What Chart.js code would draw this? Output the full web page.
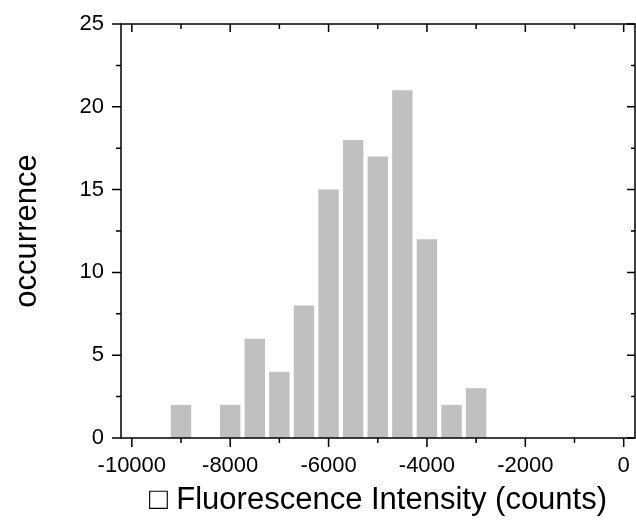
<!DOCTYPE html>
<html>
<head>
<meta charset="utf-8">
<script src="https://cdn.jsdelivr.net/npm/chart.js@4/dist/chart.umd.min.js"></script>
<style>
  html, body { margin: 0; padding: 0; background: #fff; }
  #wrap { width: 636px; height: 525px; }
</style>
</head>
<body>
<div id="wrap"><canvas id="histChart"></canvas></div>
<script>
// histogram bins (centres) and counts
const binCenters = [-9000, -8500, -8000, -7500, -7000, -6500, -6000, -5500, -5000, -4500, -4000, -3500, -3000];
const counts = [2, 0, 2, 6, 4, 8, 15, 18, 17, 21, 12, 2, 3];

const xTickValues = [-10000, -8000, -6000, -4000, -2000, 0];
const xMinorValues = [-9000, -7000, -5000, -3000, -1000];
const yTickValues = [0, 5, 10, 15, 20, 25];
const yMinorValues = [2.5, 7.5, 12.5, 17.5, 22.5];

Chart.defaults.font.family = "'Liberation Sans', Arial, sans-serif";
Chart.defaults.color = '#000';

// box + ticks like the Origin plot: out on bottom/left, in on top/right
const frameTicks = {
  id: 'frameTicks',
  afterDatasetsDraw(chart) {
    const { ctx, chartArea: a, scales: { x, y } } = chart;
    ctx.save();
    ctx.strokeStyle = '#000';
    ctx.lineWidth = 1.5;
    ctx.strokeRect(a.left, a.top, a.right - a.left, a.bottom - a.top);
    ctx.beginPath();
    const xt = (v, outLen, inLen) => {
      const px = x.getPixelForValue(v);
      ctx.moveTo(px, a.bottom); ctx.lineTo(px, a.bottom + outLen);
      ctx.moveTo(px, a.top); ctx.lineTo(px, a.top + inLen);
    };
    const yt = (v, outLen, inLen) => {
      const py = y.getPixelForValue(v);
      ctx.moveTo(a.left, py); ctx.lineTo(a.left - outLen, py);
      ctx.moveTo(a.right, py); ctx.lineTo(a.right - inLen, py);
    };
    xTickValues.forEach(v => xt(v, 9, 8));
    xMinorValues.forEach(v => xt(v, 5, 5));
    yTickValues.forEach(v => yt(v, 9, 8));
    yMinorValues.forEach(v => yt(v, 5, 4));
    ctx.stroke();
    ctx.restore();
  }
};

new Chart(document.getElementById('histChart'), {
  type: 'bar',
  data: {
    datasets: [{
      data: binCenters.map((c, i) => ({ x: c, y: counts[i] })),
      backgroundColor: '#c0c0c0',
      borderWidth: 0,
      barPercentage: 0.83,
      categoryPercentage: 1
    }]
  },
  options: {
    responsive: true,
    maintainAspectRatio: false,
    animation: false,
    layout: { padding: { top: 24, right: 1, left: 0, bottom: 0 } },
    plugins: { legend: { display: false }, tooltip: { enabled: false } },
    scales: {
      x: {
        type: 'linear',
        offset: false,
        min: -10220,
        max: 230,
        grid: { display: false, drawTicks: false },
        border: { display: false },
        afterBuildTicks: s => { s.ticks = xTickValues.map(v => ({ value: v })); },
        afterFit: s => { s.height = 87; s.paddingLeft = 0; s.paddingRight = 0; },
        ticks: {
          font: { size: 22 },
          padding: 15,
          maxRotation: 0,
          callback: v => String(v)
        },
        title: {
          display: true,
          text: '\u25A1 Fluorescence Intensity (counts)',
          font: { size: 31 },
          padding: { top: 0, bottom: 6 }
        }
      },
      y: {
        min: 0,
        max: 25,
        grid: { display: false, drawTicks: false },
        border: { display: false },
        afterBuildTicks: s => { s.ticks = yTickValues.map(v => ({ value: v })); },
        afterFit: s => { s.width = 121; s.paddingTop = 0; s.paddingBottom = 0; },
        ticks: {
          font: { size: 22 },
          padding: 17,
          callback: v => String(v)
        },
        title: {
          display: true,
          text: 'occurrence',
          font: { size: 31 },
          padding: { top: 9, bottom: 0 }
        }
      }
    }
  },
  plugins: [frameTicks]
});
</script>
</body>
</html>
